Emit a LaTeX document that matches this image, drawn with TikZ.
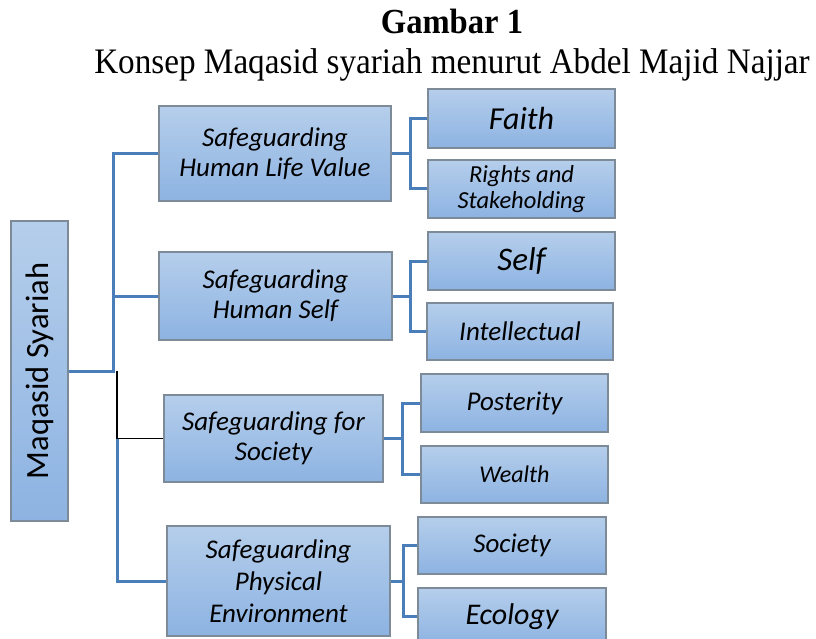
\documentclass[tikz,border=0pt]{standalone}
\usepackage{fontspec}
\setmainfont{Liberation Serif}
\newfontfamily\boxfont{Carlito}
\usetikzlibrary{shadows}
\definecolor{boxtop}{HTML}{B5CEEB}
\definecolor{boxbot}{HTML}{8DB3E2}
\definecolor{boxline}{HTML}{7D8B99}
\definecolor{connblue}{HTML}{4A7EBB}
\tikzset{
  box/.style={draw=boxline, line width=1.4pt, top color=boxtop, bottom color=boxbot,
    inner sep=2pt, align=center, text=black,
    drop shadow={shadow xshift=1pt, shadow yshift=-1pt, opacity=0.25, fill=black}},
  boxtxt/.style={font=\boxfont\itshape\fontsize{27}{30}\selectfont},
  smalltxt/.style={font=\boxfont\itshape\fontsize{24.5}{25.5}\selectfont},
  conn/.style={draw=connblue, line width=3pt},
  connblack/.style={draw=black, line width=1.5pt}
}
\begin{document}
\begin{tikzpicture}[x=1pt,y=-1pt]
\useasboundingbox (0,0) rectangle (816,639);
\node[font=\bfseries\fontsize{32.6}{34}\selectfont, yscale=1.08] (t1) at (452,21) {Gambar 1};
\node[font=\fontsize{33.2}{35}\selectfont, yscale=1.08] (t2) at (452,65) {Konsep Maqasid syariah menurut Abdel Majid Najjar};

\node[box, minimum width=57pt, minimum height=300pt] (root) at (39.5,371) {};
\node[font=\boxfont\fontsize{32.5}{34}\selectfont, rotate=90] (roottxt) at (root.center) {Maqasid Syariah};

\node[box, boxtxt, minimum width=232pt, minimum height=95pt] (b1) at (275,153.5) {Safeguarding\\Human Life Value};
\node[box, boxtxt, minimum width=233pt, minimum height=88pt] (b2) at (275.5,296) {Safeguarding\\Human Self};
\node[box, boxtxt, minimum width=219pt, minimum height=87pt] (b3) at (273.5,438.5) {Safeguarding for\\Society};
\node[box, font=\boxfont\itshape\fontsize{27}{32}\selectfont, minimum width=223pt, minimum height=110pt] (b4) at (278.5,581) {Safeguarding\\Physical\\Environment};

\node[box, font=\boxfont\itshape\fontsize{32}{34}\selectfont, minimum width=187pt, minimum height=59pt] (c11) at (521.5,118.5) {Faith};
\node[box, smalltxt, minimum width=187pt, minimum height=58pt] (c12) at (521.5,189) {Rights and\\Stakeholding};
\node[box, font=\boxfont\itshape\fontsize{33}{35}\selectfont, minimum width=187pt, minimum height=58pt] (c21) at (521.5,261) {Self};
\node[box, boxtxt, minimum width=186pt, minimum height=57pt] (c22) at (520,331.5) {Intellectual};
\node[box, boxtxt, minimum width=187pt, minimum height=58pt] (c31) at (514.5,403) {Posterity};
\node[box, font=\boxfont\itshape\fontsize{24}{26}\selectfont, minimum width=187pt, minimum height=57pt] (c32) at (514.5,474.5) {Wealth};
\node[box, boxtxt, minimum width=188pt, minimum height=57pt] (c41) at (512,545.5) {Society};
\node[box, font=\boxfont\itshape\fontsize{30}{32}\selectfont, minimum width=188pt, minimum height=57pt] (c42) at (512,616.5) {Ecology};

\coordinate (j1) at (113,371);
\coordinate (j2) at (117,371);
\coordinate (j3) at (117,438.5);
\draw[conn] (root.east) -- (j1) |- (b1.west);
\draw[conn] (j1) |- (b2.west);
\draw[connblack] (j2) |- (b3.west);
\draw[conn] (j3) |- (b4.west);

\coordinate (k1) at (410,153.5);
\coordinate (k2) at (410,296);
\coordinate (k3) at (402,438.5);
\coordinate (k4) at (403,581);
\draw[conn] (b1.east) -- (k1);
\draw[conn] (k1) |- (c11.west);
\draw[conn] (k1) |- (c12.west);
\draw[conn] (b2.east) -- (k2);
\draw[conn] (k2) |- (c21.west);
\draw[conn] (k2) |- (c22.west);
\draw[conn] (b3.east) -- (k3);
\draw[conn] (k3) |- (c31.west);
\draw[conn] (k3) |- (c32.west);
\draw[conn] (b4.east) -- (k4);
\draw[conn] (k4) |- (c41.west);
\draw[conn] (k4) |- (c42.west);
\end{tikzpicture}
\end{document}
